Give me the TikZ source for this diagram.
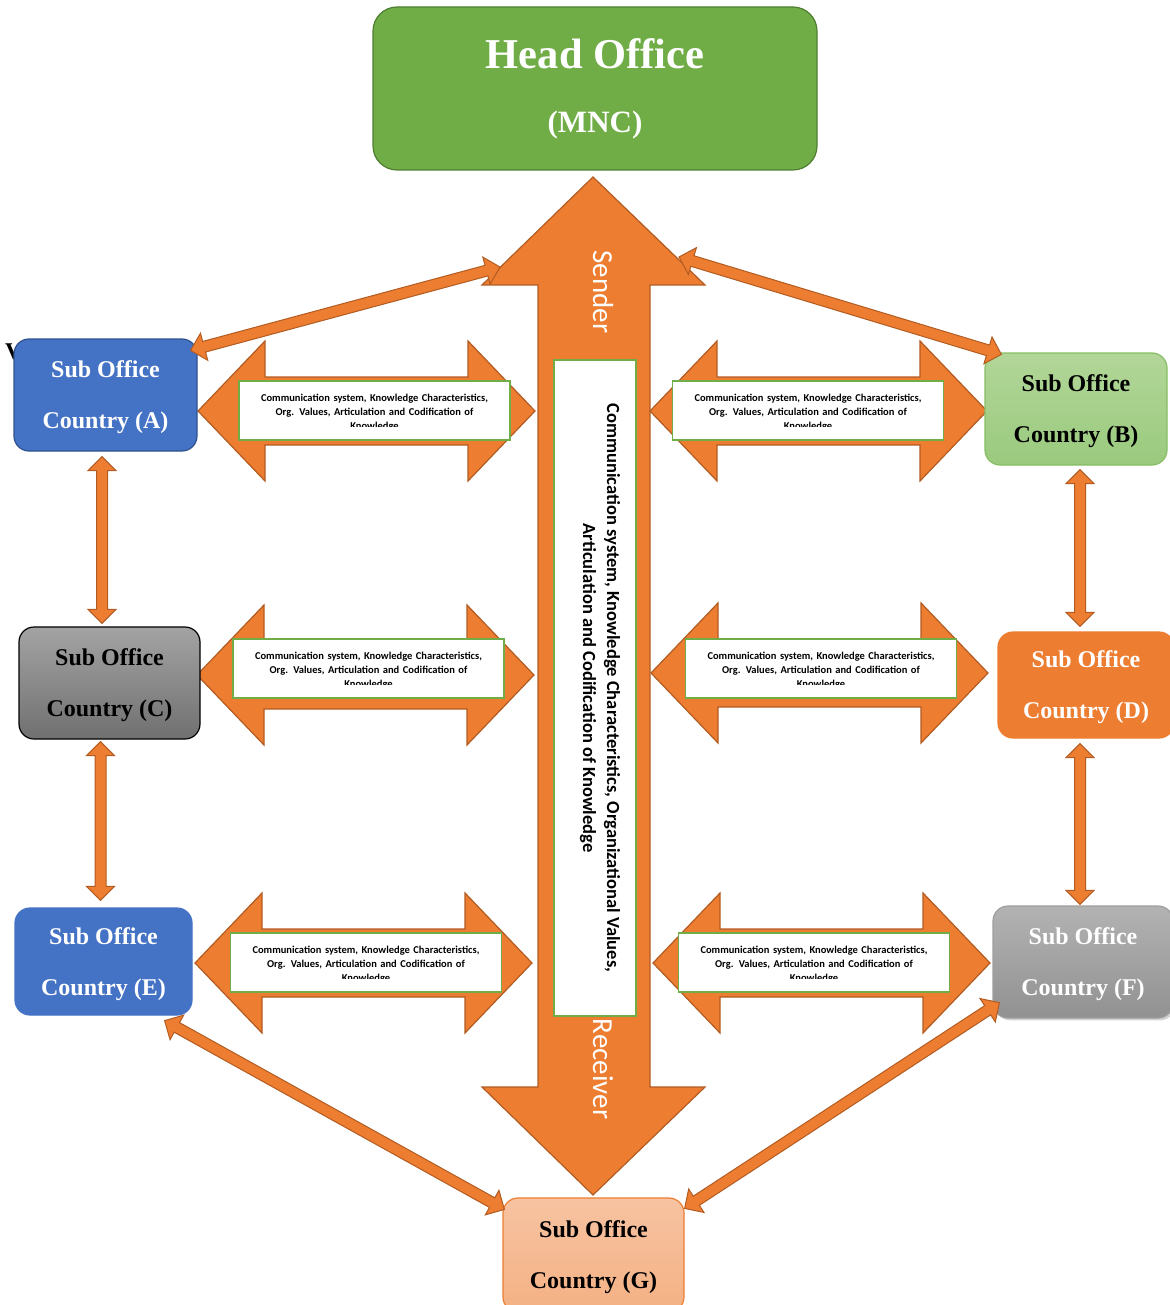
\documentclass[tikz,border=0pt]{standalone}
\usepackage{fontspec}
\setmainfont{Liberation Serif}
\newfontfamily\calibri{Carlito}
\usetikzlibrary{calc,shadows}

\definecolor{orng}{HTML}{ED7D31}
\definecolor{orngdk}{HTML}{B25C22}
\definecolor{hogreen}{HTML}{70AD47}
\definecolor{hogreendk}{HTML}{507E32}
\definecolor{subblue}{HTML}{4472C4}
\definecolor{subbluedk}{HTML}{2F528F}
\definecolor{lgreentop}{HTML}{B2D698}
\definecolor{lgreenbot}{HTML}{9ACA7E}
\definecolor{lgreendk}{HTML}{86BD62}
\definecolor{salmtop}{HTML}{F7C3A2}
\definecolor{salmbot}{HTML}{F4B183}

\tikzstyle{office} = [rounded corners=15pt, inner sep=0pt, align=center, line width=1.2pt, font=\bfseries\fontsize{24}{51}\selectfont]
\tikzstyle{suboffice} = [office, text depth=-1.5pt]
\tikzstyle{blockline} = [draw=orngdk, fill=orng, line width=1.2pt, line join=miter]
\tikzstyle{flowbox} = [draw=hogreen, line width=1.6pt, fill=white, minimum width=271pt, minimum height=59pt]
\tikzstyle{flowtext} = [inner sep=0pt, align=center, text width=262pt, font=\calibri\bfseries\fontsize{10.5}{14}\selectfont]

\tikzset{
  thinarr/.pic={
    \path[blockline, line width=1pt] (0,0) -- (14,-14) -- (14,-5.5) -- ({#1-14},-5.5) -- ({#1-14},-14) -- (#1,0)
      -- ({#1-14},14) -- ({#1-14},5.5) -- (14,5.5) -- (14,14) -- cycle;
  },
  widearr/.pic={
    \path[blockline] (0,0) -- (67,-70) -- (67,-34) -- (270,-34) -- (270,-70) -- (337,0)
      -- (270,70) -- (270,34) -- (67,34) -- (67,70) -- cycle;
  }
}

\newcommand{\linkarr}[2]{%
  \path let \p1=(#1), \p2=(#2), \n1={atan2(\y2-\y1,\x2-\x1)}, \n2={veclen(\x2-\x1,\y2-\y1)}
    in (\p1) pic[rotate=\n1]{thinarr=\n2};%
}

\begin{document}
\begin{tikzpicture}[x=1pt,y=-1pt]
\useasboundingbox (0,0) rectangle (1169,1305);

\path[blockline] (593,177) -- (705,285) -- (650,285) -- (650,1087) -- (705,1087) -- (593,1195)
  -- (482,1087) -- (538,1087) -- (538,285) -- (482,285) -- cycle;
\node[flowbox, minimum width=82pt, minimum height=656pt] (core) at (595,688) {};
\node[rotate=-90, inner sep=0pt, align=center, font=\calibri\bfseries\fontsize{18.5}{24}\selectfont] (coretext) at (600,688)
  {Communication system, Knowledge Characteristics, Organizational Values,\\Articulation and Codification of Knowledge};
\node[rotate=-90, text=white, font=\calibri\fontsize{29}{29}\selectfont] (send) at (603,292) {Sender};
\node[rotate=-90, text=white, font=\calibri\fontsize{29}{29}\selectfont] (recv) at (603,1069) {Receiver};
\coordinate (hl) at (500,267);
\coordinate (hr) at (679,257);

\path (198,411) pic{widearr};
\path (650,411) pic{widearr};
\path (197,675) pic{widearr};
\path (651,673) pic{widearr};
\path (195,963) pic{widearr};
\path (653,963) pic{widearr};

\node[flowbox] (lnk1) at (374.5,410.5) {};
\node[flowbox] (lnk2) at (808,410.5) {};
\node[flowbox] (lnk3) at (368.5,668.5) {};
\node[flowbox] (lnk4) at (821,668.5) {};
\node[flowbox] (lnk5) at (366,962.5) {};
\node[flowbox] (lnk6) at (814,962.5) {};
\foreach \b in {lnk1,lnk2,lnk3,lnk4,lnk5,lnk6}{
  \begin{scope}
    \clip (\b.north west) rectangle ($(\b.north east)+(0,46.5)$);
    \node[flowtext, anchor=north] (\b-txt) at ($(\b.north)+(0,14)$)
      {Communication system, Knowledge Characteristics,\\Org. Values, Articulation and Codification of\\Knowledge};
  \end{scope}
}

\node[anchor=north west, inner sep=0pt, font=\bfseries\fontsize{24}{24}\selectfont] (stray) at (5,344) {V};

\node[office, fill=hogreen, draw=hogreendk, text=white, minimum width=444pt, minimum height=163pt, rounded corners=24pt] (ho) at (595,88.5)
  {{\fontsize{42.5}{42.5}\selectfont Head Office}\\[13pt]{\fontsize{31}{31}\selectfont (MNC)}};
\node[suboffice, fill=subblue, draw=subbluedk, text=white, minimum width=183pt, minimum height=112pt] (A) at (105.5,395) {Sub Office\\Country (A)};
\node[suboffice, top color=lgreentop, bottom color=lgreenbot, draw=lgreendk, minimum width=182pt, minimum height=112pt] (B) at (1076,409) {Sub Office\\Country (B)};
\node[suboffice, top color=black!36, bottom color=black!56, draw=black, minimum width=181pt, minimum height=112pt] (C) at (109.5,683) {Sub Office\\Country (C)};
\node[suboffice, fill=orng, draw=orng, text=white, minimum width=176pt, minimum height=106pt] (D) at (1086,685) {Sub Office\\Country (D)};
\node[suboffice, fill=subblue, draw=subblue, text=white, minimum width=177pt, minimum height=107pt] (E) at (103.5,961.5) {Sub Office\\Country (E)};
\node[suboffice, top color=black!30, bottom color=black!43, draw=black!38, text=white, drop shadow={opacity=0.35}, minimum width=180pt, minimum height=112pt] (F) at (1083,962) {Sub Office\\Country (F)};
\node[suboffice, top color=salmtop, bottom color=salmbot, draw=orng, minimum width=181pt, minimum height=114pt] (G) at (593.5,1255) {Sub Office\\Country (G)};

\linkarr{$(A.north east)+(-7,12)$}{hl}
\linkarr{hr}{$(B.north west)+(17,2)$}
\linkarr{$(A.south)+(-3.5,5)$}{$(C.north)+(-7.5,-3)$}
\linkarr{$(C.south)+(-9,2)$}{$(E.north)+(-3,-7)$}
\linkarr{$(B.south)+(4,4)$}{$(D.north)+(-6,-5)$}
\linkarr{$(D.south)+(-6,5)$}{$(F.north)+(-3,-1)$}
\linkarr{$(E.south east)+(-28,5)$}{$(G.north west)+(2,12)$}
\linkarr{$(F.south west)+(7,-16)$}{$(G.north east)+(0,11)$}
\end{tikzpicture}
\end{document}
